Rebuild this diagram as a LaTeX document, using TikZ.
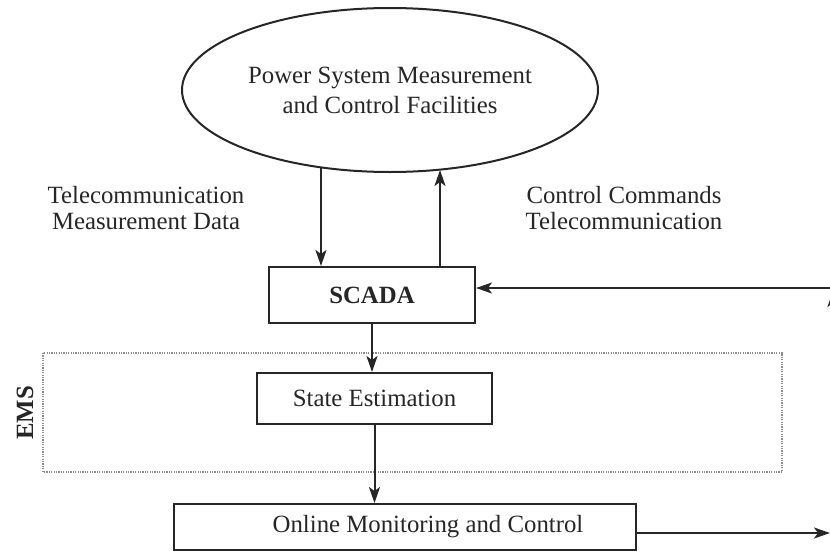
\documentclass[tikz,border=0pt]{standalone}
\usepackage{fontspec}
\setmainfont{Liberation Serif}
\usetikzlibrary{shapes.geometric,arrows.meta}

\begin{document}
\begin{tikzpicture}[x=0.5pt, y=-0.5pt,
  ink/.style={draw=black!85, line width=1pt},
  txt/.style={font=\fontsize{12.4}{15}\selectfont, text=black!85},
  blockbox/.style={ink, txt, rectangle, inner sep=0pt},
  arr/.style={ink, -{Stealth[length=8pt, width=5.5pt, inset=2pt]}},
  lbl/.style={txt, align=center, inner sep=0pt, font=\fontsize{12.4}{12.8}\selectfont},
  emsbox/.style={draw=black!45, line width=0.7pt, dash pattern=on 0.6pt off 0.6pt}]
\clip (0,0) rectangle (830,552);
% --- field side ---
\node[ellipse, ink, txt, minimum width=208pt, minimum height=82pt, inner sep=0pt, align=center] (facil) at (390,90) {Power System Measurement\\and Control Facilities};
\node[lbl] (meas) at (146,208) {Telecommunication\\Measurement Data};
\node[lbl] (ctrl) at (624,208) {Control Commands\\Telecommunication};
% --- SCADA and EMS ---
\node[blockbox, minimum width=103pt, minimum height=28pt, font=\fontsize{12.4}{15}\selectfont\bfseries] (scada) at (372,295) {SCADA};
\draw[emsbox] (43,353) rectangle (782,472);
\node[txt, rotate=90, font=\fontsize{12.4}{15}\selectfont\bfseries] (ems) at (25,413) {EMS};
\node[blockbox, minimum width=117.5pt, minimum height=25.5pt] (se) at (374.5,398.5) {State Estimation};
\node[blockbox, minimum width=231pt, minimum height=23pt] (omc) at (405,527) {\hspace*{23pt}Online Monitoring and Control};
% --- connectors ---
\coordinate (dnA) at (321,167);
\coordinate (upA) at (440,170);
\coordinate (fbk) at (830,288);
\coordinate (mon) at (830,533);
\coordinate (rimlo) at (833,340);
\coordinate (rimhi) at (833,291);
\draw[arr] (dnA) -- (dnA |- scada.north);
\draw[arr] (upA |- scada.north) -- (upA);
\draw[arr] (fbk) -- (fbk -| scada.east);
\draw[arr] (scada.south) -- (scada.south |- se.north);
\draw[arr] (se.south) -- (se.south |- omc.north);
\draw[arr] (mon -| omc.east) -- (mon);
\draw[arr] (rimlo) -- (rimhi);
\end{tikzpicture}
\end{document}
